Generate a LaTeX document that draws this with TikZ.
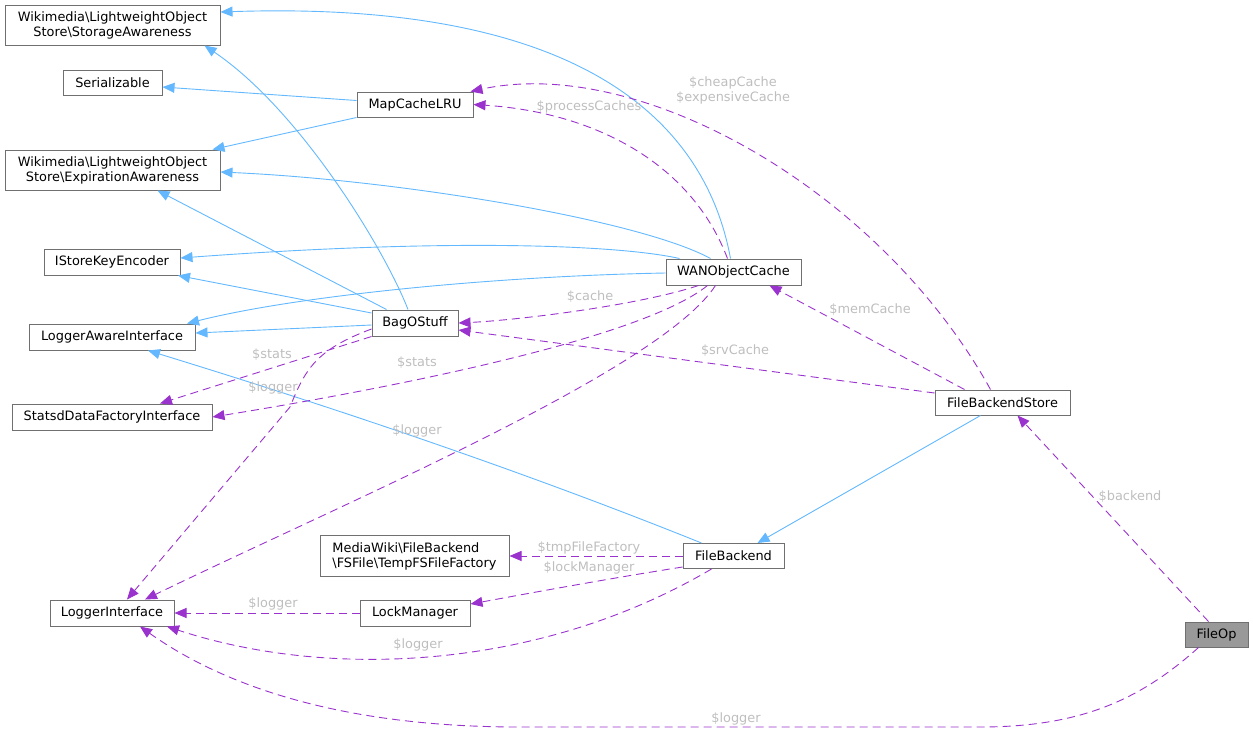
\documentclass[tikz,border=0pt]{standalone}
\usepackage{fontspec}
\setmainfont{DejaVu Sans}
\usetikzlibrary{arrows.meta}

\definecolor{inhblue}{HTML}{63B8FF}
\definecolor{usepurple}{HTML}{9A32CD}
\definecolor{lblgrey}{HTML}{BEBEBE}
\definecolor{boxgrey}{HTML}{707070}
\definecolor{curfill}{HTML}{999999}

\tikzset{
	cls/.style={draw=boxgrey, fill=white, line width=1pt, minimum height=26pt, inner sep=1pt, font=\fontsize{12.9}{15}\selectfont},
	inhline/.style={draw=inhblue, line width=0.9pt, -{Triangle[length=12pt,width=10pt]}},
	useline/.style={draw=usepurple, line width=0.9pt, dash pattern=on 8pt off 5pt, -{Triangle[length=12pt,width=10pt]}},
	lbl/.style={text=lblgrey, inner sep=0pt, align=center, font=\fontsize{12.9}{15}\selectfont}
}

\begin{document}
\begin{tikzpicture}[x=1pt,y=-1pt]
			%%%%% START %%%%%
			\useasboundingbox (0,0) rectangle (1253,732);
			
			% classes
			\node[cls, minimum width=215pt, minimum height=40pt, align=center] (storage) at (112.5,25) {Wikimedia\textbackslash LightweightObject\\Store\textbackslash StorageAwareness};
			\node[cls, minimum width=99pt, minimum height=25pt] (serial) at (112.5,82.5) {Serializable};
			\node[cls, minimum width=116pt, minimum height=25pt] (mapcache) at (415,104.5) {MapCacheLRU};
			\node[cls, minimum width=215pt, minimum height=40pt, align=center] (expire) at (112.5,170) {Wikimedia\textbackslash LightweightObject\\Store\textbackslash ExpirationAwareness};
			\node[cls, minimum width=136pt] (keyenc) at (112,262) {IStoreKeyEncoder};
			\node[cls, minimum width=166pt] (logaware) at (112,337) {LoggerAwareInterface};
			\node[cls, minimum width=200pt] (statsd) at (112,417) {StatsdDataFactoryInterface};
			\node[cls, minimum width=86pt] (bag) at (415,323) {BagOStuff};
			\node[cls, minimum width=135pt] (wan) at (733.5,272) {WANObjectCache};
			\node[cls, minimum width=135pt, minimum height=25pt] (fbs) at (1002.5,402.5) {FileBackendStore};
			\node[cls, minimum width=63pt, minimum height=25pt, fill=curfill] (fileop) at (1216.5,634.5) {FileOp};
			\node[cls, minimum width=101pt, minimum height=25pt] (fbackend) at (733.5,556) {FileBackend};
			\node[cls, minimum width=189pt, minimum height=41pt, align=left] (tmpfs) at (414.5,556) {MediaWiki\textbackslash FileBackend\\\textbackslash FSFile\textbackslash TempFSFileFactory};
			\node[cls, minimum width=124pt] (loginterface) at (112,613) {LoggerInterface};
			\node[cls, minimum width=110pt] (lockmgr) at (415,613) {LockManager};
			
			% inheritance
			\draw[inhline] ([xshift=-3pt]wan.north) .. controls (705,120) and (580,0) .. ([yshift=13pt]storage.east);
			\draw[inhline] ([xshift=-7pt]bag.north) .. controls (385,250) and (300,110) .. ([xshift=92pt]storage.south);
			\draw[inhline] ([yshift=4pt]mapcache.west) -- ([yshift=-4.5pt]serial.east);
			\draw[inhline] (mapcache.south west) -- ([xshift=100pt]expire.north);
			\draw[inhline] ([xshift=-23pt]wan.north) .. controls (640,220) and (400,180) .. ([yshift=-2pt]expire.east);
			\draw[inhline] ([xshift=15pt]bag.north west) -- ([xshift=45pt]expire.south);
			\draw[inhline] ([xshift=14pt]wan.north west) .. controls (620,245) and (450,238) .. ([yshift=4pt]keyenc.east);
			\draw[inhline] ([yshift=10pt]bag.west) -- ([xshift=66pt]keyenc.south);
			\draw[inhline] ([yshift=-1pt]wan.west) .. controls (500,276) and (300,295) .. ([xshift=75pt]logaware.north);
			\draw[inhline] ([yshift=-2pt]bag.west) -- ([yshift=4pt]logaware.east);
			\draw[inhline] ([xshift=-32pt]fbackend.north) .. controls (520,470) and (332,407) .. ([xshift=36pt]logaware.south);
			\draw[inhline] ([xshift=-22pt]fbs.south) -- ([xshift=24pt]fbackend.north);
			
			% usage
			\draw[useline] ([xshift=-12pt]fbs.north) .. controls (880,190) and (640,55) .. ([xshift=-3pt]mapcache.north east);
			\draw[useline] ([xshift=-6pt]wan.north) .. controls (690,160) and (590,112) .. (mapcache.east);
			\draw[useline] ([xshift=-35pt]wan.south) .. controls (640,305) and (520,320) .. (bag.east);
			\draw[useline] ([yshift=9.5pt]fbs.west) -- ([yshift=-7pt]bag.east);
			\draw[useline] ([xshift=-38pt]fbs.north) -- ([xshift=36pt]wan.south);
			\draw[useline] (bag.south west) -- ([xshift=48pt]statsd.north);
			\draw[useline] ([xshift=-26pt]wan.south) .. controls (640,340) and (380,390) .. (statsd.east);
			\draw[useline] ([xshift=-18pt]wan.south) .. controls (660,370) and (350,500) .. ([xshift=33pt]loginterface.north);
			\draw[useline] ([yshift=-6pt]bag.west) .. controls (315,350) and (305,370) .. (290,407) -- ([xshift=15pt]loginterface.north);
			\draw[useline] (lockmgr.west) -- (loginterface.east);
			\draw[useline] ([xshift=-22pt]fbackend.south) .. controls (540,670) and (330,680) .. ([xshift=55pt]loginterface.south);
			\draw[useline] ([xshift=-18pt]fileop.south) .. controls (1140,700) and (1080,727) .. (980,727) -- (520,727) .. controls (350,727) and (230,690) .. ([xshift=28pt]loginterface.south);
			\draw[useline] ([xshift=-8pt]fileop.north) -- ([xshift=15pt]fbs.south);
			\draw[useline] (fbackend.west) -- (tmpfs.east);
			\draw[useline] ([yshift=-11pt]fbackend.west) .. controls (600,580) and (520,595) .. ([yshift=9pt]lockmgr.east);
			
			% member names
			\node[lbl] (lcheap) at (733,90) {\$cheapCache\\\$expensiveCache};
			\node[lbl] (lproc) at (589,107) {\$processCaches};
			\node[lbl] (lcache) at (590,297) {\$cache};
			\node[lbl] (lmem) at (870,310) {\$memCache};
			\node[lbl] (lsrv) at (735,351) {\$srvCache};
			\node[lbl] (lstatsbag) at (272,355) {\$stats};
			\node[lbl] (lstatswan) at (417,363) {\$stats};
			\node[lbl] (lloggerbag) at (273,388) {\$logger};
			\node[lbl] (lloggerwan) at (417,431) {\$logger};
			\node[lbl] (lloggerlock) at (273,604) {\$logger};
			\node[lbl] (lloggerfb) at (418,645) {\$logger};
			\node[lbl] (lloggerop) at (736,719) {\$logger};
			\node[lbl] (lbackend) at (1130,497) {\$backend};
			\node[lbl] (ltmp) at (589,548) {\$tmpFileFactory};
			\node[lbl] (llock) at (589,568) {\$lockManager};
			
			%%%%% END %%%%%
\end{tikzpicture}
\end{document}
